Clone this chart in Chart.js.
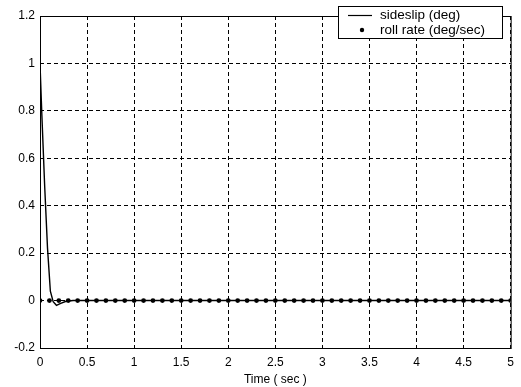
<!DOCTYPE html>
<html>
<head>
<meta charset="utf-8">
<script src="https://cdn.jsdelivr.net/npm/chart.js@4"></script>
<style>
  html, body { margin: 0; padding: 0; background: #fff; }
  #wrap { width: 521px; height: 387px; }
</style>
</head>
<body>
<div id="wrap"><canvas id="myChart" width="521" height="387"></canvas></div>
<script>
// sideslip response (deg)
const sideslipTime = [0, 0.02, 0.05, 0.08, 0.11, 0.14, 0.175, 0.22, 0.27, 0.35, 0.5, 1, 2, 3, 4, 5];
const sideslipValues = [1.0, 0.78, 0.48, 0.22, 0.04, -0.005, -0.02, -0.012, -0.004, 0, 0, 0, 0, 0, 0, 0];

// roll rate samples (deg/sec)
const rollTime = [0, 0.1, 0.2, 0.3, 0.4, 0.5, 0.6, 0.7, 0.8, 0.9,
  1, 1.1, 1.2, 1.3, 1.4, 1.5, 1.6, 1.7, 1.8, 1.9,
  2, 2.1, 2.2, 2.3, 2.4, 2.5, 2.6, 2.7, 2.8, 2.9,
  3, 3.1, 3.2, 3.3, 3.4, 3.5, 3.6, 3.7, 3.8, 3.9,
  4, 4.1, 4.2, 4.3, 4.4, 4.5, 4.6, 4.7, 4.8, 4.9, 5];
const rollValues = [0, 0, 0, 0, 0, 0, 0, 0, 0, 0,
  0, 0, 0, 0, 0, 0, 0, 0, 0, 0,
  0, 0, 0, 0, 0, 0, 0, 0, 0, 0,
  0, 0, 0, 0, 0, 0, 0, 0, 0, 0,
  0, 0, 0, 0, 0, 0, 0, 0, 0, 0, 0];

const xTicks = [0, 0.5, 1, 1.5, 2, 2.5, 3, 3.5, 4, 4.5, 5];
const yTicks = [-0.2, 0, 0.2, 0.4, 0.6, 0.8, 1, 1.2];
const seriesLabels = ['sideslip (deg)', 'roll rate (deg/sec)'];

const FONT = 'Liberation Sans, Arial, sans-serif';

// frame + boxed legend like the matlab figure
const framePlugin = {
  id: 'frame',
  afterDraw(chart) {
    const c = chart.ctx, a = chart.chartArea;
    c.save();
    c.strokeStyle = '#000';
    c.lineWidth = 1;
    c.setLineDash([]);
    c.strokeRect(a.left + 0.5, a.top + 0.5, a.right - a.left, a.bottom - a.top);

    // legend box
    const bx = 338, by = 6, bw = 164, bh = 32;
    c.fillStyle = '#fff';
    c.fillRect(bx, by, bw, bh);
    c.strokeRect(bx + 0.5, by + 0.5, bw, bh);
    c.font = '13.5px ' + FONT;
    c.fillStyle = '#000';
    c.textBaseline = 'middle';
    c.beginPath();
    c.moveTo(348, 15.5);
    c.lineTo(372, 15.5);
    c.lineWidth = 1.2;
    c.stroke();
    c.fillText(seriesLabels[0], 380, 15);
    c.beginPath();
    c.arc(362, 30, 2.2, 0, Math.PI * 2);
    c.fill();
    c.fillText(seriesLabels[1], 380, 30);
    c.restore();
  }
};

const ctx = document.getElementById('myChart');

new Chart(ctx, {
  type: 'line',
  data: {
    datasets: [{
      label: seriesLabels[0],
      data: sideslipTime.map((t, i) => ({ x: t, y: sideslipValues[i] })),
      borderColor: '#000',
      borderWidth: 1.4,
      pointRadius: 0,
      tension: 0,
      fill: false
    }, {
      label: seriesLabels[1],
      data: rollTime.map((t, i) => ({ x: t, y: rollValues[i] })),
      borderColor: '#000',
      backgroundColor: '#000',
      showLine: false,
      pointRadius: 2.4,
      pointBorderWidth: 0,
      fill: false
    }]
  },
  options: {
    responsive: false,
    animation: false,
    layout: { padding: { top: 16, right: 4, left: 0, bottom: 0 } },
    plugins: {
      legend: { display: false },
      tooltip: { enabled: false }
    },
    scales: {
      x: {
        type: 'linear',
        min: 0,
        max: 5,
        afterBuildTicks: s => { s.ticks = xTicks.map(v => ({ value: v })); },
        afterFit: s => { s.height = 39; },
        grid: { color: '#000', lineWidth: 1, drawTicks: false },
        border: { display: false, dash: [4, 3] },
        ticks: {
          color: '#000', font: { family: FONT, size: 12 }, padding: 7, maxRotation: 0,
          callback: v => (Math.round(v * 10) / 10).toString()
        },
        title: { display: true, text: 'Time ( sec )', color: '#000', font: { family: FONT, size: 12 }, padding: { top: 0, bottom: 0 } }
      },
      y: {
        min: -0.2,
        max: 1.2,
        afterBuildTicks: s => { s.ticks = yTicks.map(v => ({ value: v })); },
        afterFit: s => { s.width = 40; },
        grid: { color: '#000', lineWidth: 1, drawTicks: false },
        border: { display: false, dash: [4, 3] },
        ticks: {
          color: '#000',
          font: { family: FONT, size: 12 },
          padding: 5,
          callback: v => (Math.round(v * 10) / 10).toString()
        }
      }
    }
  },
  plugins: [framePlugin]
});
</script>
</body>
</html>
